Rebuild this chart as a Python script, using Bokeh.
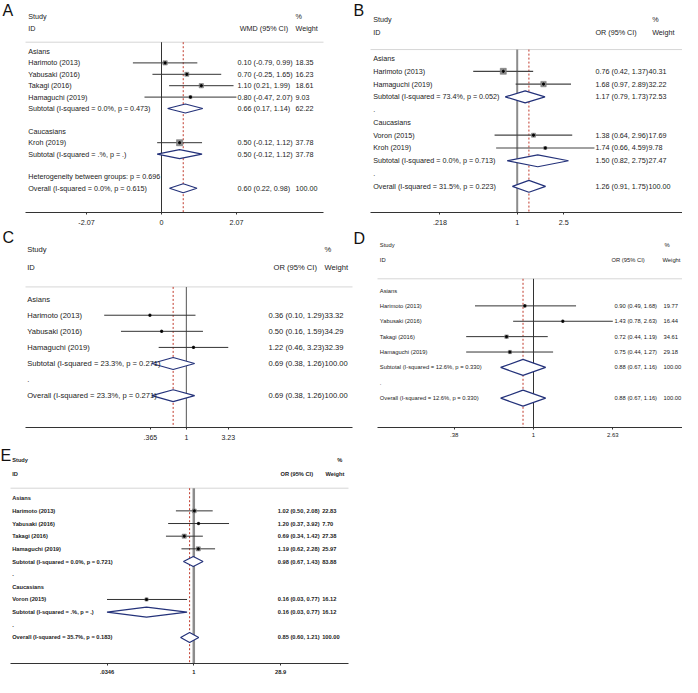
import math
from bokeh.plotting import figure
from bokeh.models import Range1d, FixedTicker
from bokeh.layouts import column, row
from bokeh.embed import file_html
from bokeh.resources import INLINE
from bokeh.core.properties import value

FONT = "Liberation Sans"

# ---------------- DATA ----------------
# Panel A: WMD
A_groups = ["Asians", "Caucasians"]
A_study = ["Harimoto (2013)", "Yabusaki (2016)", "Takagi (2016)", "Hamaguchi (2019)", "Kroh (2019)"]
A_group = [0, 0, 0, 0, 1]
A_est = [0.10, 0.70, 1.10, 0.80, 0.50]
A_lo = [-0.79, -0.25, 0.21, -0.47, -0.12]
A_hi = [0.99, 1.65, 1.99, 2.07, 1.12]
A_w = [18.35, 16.23, 18.61, 9.03, 37.78]
A_sub_est = [0.66, 0.50]
A_sub_lo = [0.17, -0.12]
A_sub_hi = [1.14, 1.12]
A_sub_w = [62.22, 37.78]
A_sub_i2 = ["0.0", "."]
A_sub_p = ["0.473", "."]
A_all = [0.60, 0.22, 0.98, 100.00]
A_all_i2, A_all_p = "0.0", "0.615"
A_het_p = "0.696"
A_ticks = [-2.07, 0, 2.07]
A_tick_labels = ["-2.07", "0", "2.07"]

# Panel B: OR
B_groups = ["Asians", "Caucasians"]
B_study = ["Harimoto (2013)", "Hamaguchi (2019)", "Voron (2015)", "Kroh (2019)"]
B_group = [0, 0, 1, 1]
B_est = [0.76, 1.68, 1.38, 1.74]
B_lo = [0.42, 0.97, 0.64, 0.66]
B_hi = [1.37, 2.89, 2.96, 4.59]
B_w = [40.31, 32.22, 17.69, 9.78]
B_sub_est = [1.17, 1.50]
B_sub_lo = [0.79, 0.82]
B_sub_hi = [1.73, 2.75]
B_sub_w = [72.53, 27.47]
B_sub_i2 = ["73.4", "0.0"]
B_sub_p = ["0.052", "0.713"]
B_all = [1.26, 0.91, 1.75, 100.00]
B_all_i2, B_all_p = "31.5", "0.223"
B_ticks = [0.218, 1, 2.5]
B_tick_labels = [".218", "1", "2.5"]

# Panel C: OR
C_groups = ["Asians"]
C_study = ["Harimoto (2013)", "Yabusaki (2016)", "Hamaguchi (2019)"]
C_group = [0, 0, 0]
C_est = [0.36, 0.50, 1.22]
C_lo = [0.10, 0.16, 0.46]
C_hi = [1.29, 1.59, 3.23]
C_w = [33.32, 34.29, 32.39]
C_sub_est = [0.69]
C_sub_lo = [0.38]
C_sub_hi = [1.26]
C_sub_w = [100.00]
C_sub_i2 = ["23.3"]
C_sub_p = ["0.271"]
C_all = [0.69, 0.38, 1.26, 100.00]
C_all_i2, C_all_p = "23.3", "0.271"
C_ticks = [0.365, 1, 3.23]
C_tick_labels = [".365", "1", "3.23"]

# Panel D: OR
D_groups = ["Asians"]
D_study = ["Harimoto (2013)", "Yabusaki (2016)", "Takagi (2016)", "Hamaguchi (2019)"]
D_group = [0, 0, 0, 0]
D_est = [0.90, 1.43, 0.72, 0.75]
D_lo = [0.49, 0.78, 0.44, 0.44]
D_hi = [1.68, 2.63, 1.19, 1.27]
D_w = [19.77, 16.44, 34.61, 29.18]
D_sub_est = [0.88]
D_sub_lo = [0.67]
D_sub_hi = [1.16]
D_sub_w = [100.00]
D_sub_i2 = ["12.6"]
D_sub_p = ["0.330"]
D_all = [0.88, 0.67, 1.16, 100.00]
D_all_i2, D_all_p = "12.6", "0.330"
D_ticks = [0.38, 1, 2.63]
D_tick_labels = [".38", "1", "2.63"]

# Panel E: OR
E_groups = ["Asians", "Caucasians"]
E_study = ["Harimoto (2013)", "Yabusaki (2016)", "Takagi (2016)", "Hamaguchi (2019)", "Voron (2015)"]
E_group = [0, 0, 0, 0, 1]
E_est = [1.02, 1.20, 0.69, 1.19, 0.16]
E_lo = [0.50, 0.37, 0.34, 0.62, 0.0346]
E_hi = [2.08, 3.92, 1.42, 2.28, 0.77]
E_w = [22.83, 7.70, 27.38, 25.97, 16.12]
E_sub_est = [0.98, 0.16]
E_sub_lo = [0.67, 0.0346]
E_sub_hi = [1.43, 0.77]
E_sub_w = [83.88, 16.12]
E_sub_i2 = ["0.0", "."]
E_sub_p = ["0.721", "."]
E_all = [0.85, 0.60, 1.21, 100.00]
E_all_i2, E_all_p = "35.7", "0.183"
E_ticks = [0.0346, 1, 28.9]
E_tick_labels = [".0346", "1", "28.9"]

DIAMOND = "#24327a"
REDLINE = "#c0392b"


def build(letter, data, cfg):
    fig_l, fig_t, fig_w, fig_h = cfg["fig"]
    fr_l, fr_r, axis_px = cfg["frame"]
    first, sp = cfg["rows"]
    log = cfg["log"]
    null_px, scale = cfg["xmap"]

    def xd(px):
        u = (px - null_px) / scale
        return math.exp(u) if log else u

    def yd(py):
        return (py - first) / sp

    p = figure(width=fig_w, height=fig_h,
               x_range=Range1d(xd(fig_l), xd(fig_l + fig_w)),
               y_range=Range1d(yd(axis_px), yd(fig_t)),
               x_axis_type="log" if log else "linear",
               y_axis_location=None, toolbar_location=None,
               output_backend="svg",
               min_border_left=0, min_border_right=0,
               min_border_top=0, min_border_bottom=fig_t + fig_h - axis_px)
    p.outline_line_color = None
    p.xgrid.visible = False
    p.ygrid.visible = False
    p.background_fill_color = "white"
    p.border_fill_color = "white"

    ax = p.xaxis[0]
    ax.bounds = (xd(fr_l), xd(fr_r))
    ax.ticker = FixedTicker(ticks=data["ticks"])
    ax.major_label_overrides = {t: l for t, l in zip(data["ticks"], data["tick_labels"])}
    ax.axis_line_color = "#333333"
    ax.axis_line_width = 1
    ax.major_tick_line_color = "#333333"
    ax.major_tick_out = 2
    ax.major_tick_in = 0
    ax.minor_tick_line_color = None
    ax.major_label_standoff = cfg["standoff"]
    ax.major_label_text_font = FONT
    ax.major_label_text_font_size = f"{cfg['tick_fs']}px"
    ax.major_label_text_color = "#222222"
    ax.major_label_text_font_style = cfg["style"]

    fs = value(f"{cfg['fs']}px")
    fstyle = value(cfg["style"])

    # row structure
    left_txt, left_y = [], []
    study_y = [0] * len(data["study"])
    sub_y = []
    r = 0
    for g, gname in enumerate(data["groups"]):
        left_txt.append(gname); left_y.append(r); r += 1
        for i, gi in enumerate(data["group"]):
            if gi == g:
                study_y[i] = r
                left_txt.append(data["study"][i]); left_y.append(r)
                r += 1
        sub_y.append(r)
        left_txt.append(f"Subtotal  (I-squared = {data['sub_i2'][g]}%, p = {data['sub_p'][g]})")
        left_y.append(r); r += 1
        if data["filler"]:
            left_txt.append(data["filler"]); left_y.append(r)
        r += 1
    if data.get("het"):
        left_txt.append(f"Heterogeneity between groups: p = {data['het']}")
        left_y.append(r); r += 1
    all_y = r
    left_txt.append(f"Overall  (I-squared = {data['all_i2']}%, p = {data['all_p']})")
    left_y.append(all_y)

    sep_row = yd(cfg["sep"])
    bottom_row = yd(axis_px)

    # header separator
    p.segment(x0=[xd(fr_l)], x1=[xd(fr_r)], y0=[sep_row], y1=[sep_row],
              line_color="#d6d6d6", line_width=1)
    # null line
    p.segment(x0=[data["null"]], x1=[data["null"]], y0=[sep_row], y1=[bottom_row],
              line_color=cfg["null_color"], line_width=cfg["null_width"])
    # overall effect line
    ov = data["all"]
    p.segment(x0=[ov[0]], x1=[ov[0]], y0=[sep_row], y1=[bottom_row],
              line_color=REDLINE, line_width=1, line_dash="2 2")

    # CI lines
    p.segment(x0=data["lo"], x1=data["hi"], y0=study_y, y1=study_y,
              line_color=cfg["ci_color"], line_width=cfg["ci_width"])
    # weight boxes + point
    sizes = [cfg["box_k"] * math.sqrt(w) for w in data["w"]]
    p.scatter(x=data["est"], y=study_y, size=sizes, marker="square",
              fill_color="#8a8a8a", line_color="#6a6a6a", line_width=0.5)
    p.scatter(x=data["est"], y=study_y, size=2.2, marker="circle",
              fill_color="#000000", line_color="#000000")

    # diamonds
    h = cfg["dh"] / sp
    xs, ys = [], []
    for e, lo, hi, yy in zip(data["sub_est"] + [ov[0]], data["sub_lo"] + [ov[1]],
                             data["sub_hi"] + [ov[2]], sub_y + [all_y]):
        xs.append([lo, e, hi, e])
        ys.append([yy, yy - h, yy, yy + h])
    p.patches(xs=xs, ys=ys, fill_color="white", line_color=DIAMOND, line_width=1.2)

    # text columns
    tx = cfg["tx"]
    common = dict(text_font=value(FONT), text_font_size=fs, text_font_style=fstyle,
                  text_color="#222222", text_baseline="middle", text_align="left")
    p.text(x=[xd(tx["label"])] * len(left_txt), y=left_y, text=left_txt, **common)

    ci_txt = [f"{e:.2f} ({lo:.2f}, {hi:.2f})" for e, lo, hi in zip(data["est"], data["lo"], data["hi"])]
    ci_txt += [f"{e:.2f} ({lo:.2f}, {hi:.2f})" for e, lo, hi in zip(data["sub_est"], data["sub_lo"], data["sub_hi"])]
    ci_txt += [f"{ov[0]:.2f} ({ov[1]:.2f}, {ov[2]:.2f})"]
    w_txt = [f"{w:.2f}" for w in data["w"]] + [f"{w:.2f}" for w in data["sub_w"]] + [f"{ov[3]:.2f}"]
    rows_y = study_y + sub_y + [all_y]
    p.text(x=[xd(tx["ci"])] * len(ci_txt), y=rows_y, text=ci_txt, **common)
    p.text(x=[xd(tx["w"])] * len(w_txt), y=rows_y, text=w_txt, **common)

    # headers
    hy1, hy2 = yd(cfg["hdr"][0]), yd(cfg["hdr"][1])
    p.text(x=[xd(tx["label"]), xd(tx["pct"]), xd(tx["label"]), xd(tx["hci"]), xd(tx["hw"])],
           y=[hy1, hy1, hy2, hy2, hy2],
           text=["Study", "%", "ID", data["measure"] + " (95% CI)", "Weight"], **common)

    # panel letter
    lx, ly = cfg["letter"]
    p.text(x=[xd(lx)], y=[yd(ly)], text=[letter], text_font=value(FONT),
           text_font_size=value("16px"), text_color="#111111",
           text_baseline="top", text_align="left")
    return p


def pack(pref, measure, null, filler, het=None):
    g = globals()
    return dict(groups=g[pref + "_groups"], study=g[pref + "_study"], group=g[pref + "_group"],
                est=g[pref + "_est"], lo=g[pref + "_lo"], hi=g[pref + "_hi"], w=g[pref + "_w"],
                sub_est=g[pref + "_sub_est"], sub_lo=g[pref + "_sub_lo"], sub_hi=g[pref + "_sub_hi"],
                sub_w=g[pref + "_sub_w"], sub_i2=g[pref + "_sub_i2"], sub_p=g[pref + "_sub_p"],
                all=g[pref + "_all"], all_i2=g[pref + "_all_i2"], all_p=g[pref + "_all_p"],
                ticks=g[pref + "_ticks"], tick_labels=g[pref + "_tick_labels"],
                measure=measure, null=null, filler=filler, het=het)


cfgA = dict(fig=(0, 0, 345, 228), frame=(25, 323, 212), rows=(51, 11.4), log=False,
            xmap=(161, 36.2), sep=41.7, hdr=(15.7, 27.7), letter=(2, 1),
            tx=dict(label=27.7, ci=237, w=295, pct=295, hci=239.3, hw=295),
            fs=7.2, tick_fs=7.2, style="normal", standoff=5, dh=4.5, box_k=1.0,
            null_color="#333333", null_width=1, ci_color="#333333", ci_width=1)
cfgB = dict(fig=(345, 0, 337, 228), frame=(370, 682, 213), rows=(58.3, 12.84), log=True,
            xmap=(516.7, 50.7), sep=49.3, hdr=(19, 32.3), letter=(353, 2),
            tx=dict(label=372.7, ci=595, w=648, pct=651.7, hci=595, hw=651.7),
            fs=7.2, tick_fs=7.2, style="normal", standoff=5, dh=6, box_k=0.95,
            null_color="#8c8c8c", null_width=2, ci_color="#444444", ci_width=1.2)
cfgC = dict(fig=(0, 228, 353, 218), frame=(25, 352, 428), rows=(299, 16.17), log=True,
            xmap=(185.9, 35.7), sep=286.7, hdr=(249.3, 266.7), letter=(2, 228),
            tx=dict(label=26.7, ci=268, w=324, pct=324, hci=273, hw=324),
            fs=7.6, tick_fs=7, style="normal", standoff=5, dh=6, box_k=0.4,
            null_color="#707070", null_width=1.2, ci_color="#333333", ci_width=1)
cfgD = dict(fig=(353, 228, 329, 218), frame=(377, 682, 427), rows=(290, 15.38), log=True,
            xmap=(533, 82), sep=278.3, hdr=(244.3, 259.3), letter=(353, 229),
            tx=dict(label=379.3, ci=614, w=663, pct=664, hci=611, hw=662),
            fs=5.8, tick_fs=6, style="normal", standoff=3, dh=8, box_k=0.6,
            null_color="#333333", null_width=1, ci_color="#333333", ci_width=1)
SH = 14  # panel E vertical shift so that it fits the page
cfgE = dict(fig=(0, 446, 356, 231), frame=(10, 348, 663), rows=(511.7 - SH, 12.66), log=True,
            xmap=(193.3, 25.8), sep=501.7 - SH, hdr=(473.3 - SH, 487.7 - SH), letter=(0, 460 - SH),
            tx=dict(label=11.7, ci=277.3, w=321.7, pct=336.7, hci=280, hw=325),
            fs=5.7, tick_fs=5.7, style="bold", standoff=4, dh=5, box_k=0.8,
            null_color="#8c8c8c", null_width=2.5, ci_color="#333333", ci_width=1)

pA = build("A", pack("A", "WMD", 0, "", het=A_het_p), cfgA)
pB = build("B", pack("B", "OR", 1, "."), cfgB)
pC = build("C", pack("C", "OR", 1, "."), cfgC)
pD = build("D", pack("D", "OR", 1, "."), cfgD)
pE = build("E", pack("E", "OR", 1, "."), cfgE)

layout = column(row(pA, pB), row(pC, pD), row(pE))
open("out.html", "w").write(file_html(layout, INLINE))
